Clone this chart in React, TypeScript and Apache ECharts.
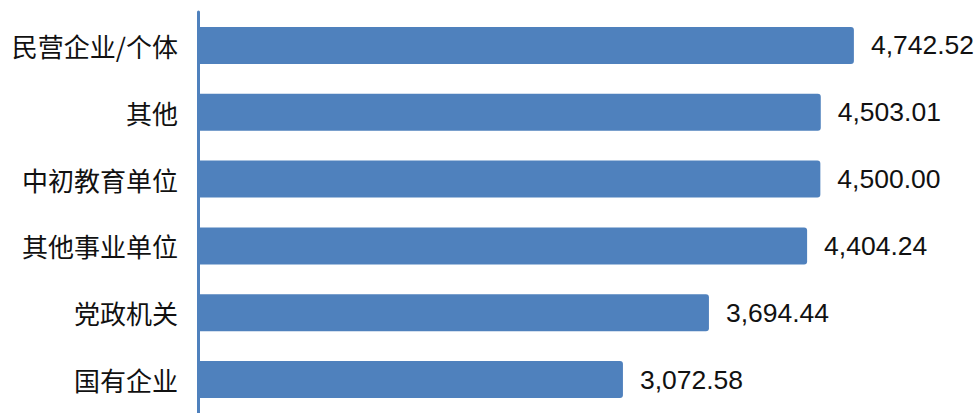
import React, { useEffect, useRef } from "react";
import * as echarts from "echarts";

const categories = ["民营企业/个体", "其他", "中初教育单位", "其他事业单位", "党政机关", "国有企业"];
const values = [4742.52, 4503.01, 4500.0, 4404.24, 3694.44, 3072.58];

function fmt(v: number): string {
  const fixed = v.toFixed(2);
  const [i, d] = fixed.split(".");
  return i.replace(/\B(?=(\d{3})+(?!\d))/g, ",") + "." + d;
}

export default function App() {
  const ref = useRef<HTMLDivElement>(null);
  useEffect(() => {
    document.body.style.margin = "0";
    document.body.style.overflow = "hidden";
    const chart = echarts.init(ref.current!, null, { renderer: "svg" });
    chart.setOption({
      animation: false,
      grid: { left: 198, right: 88.5, top: 12, bottom: -6 },
      xAxis: {
        type: "value",
        min: 0,
        max: 5000,
        show: false,
        splitLine: { show: false },
      },
      yAxis: {
        type: "category",
        inverse: true,
        data: categories,
        axisLine: { show: true, lineStyle: { color: "#4F81BD", width: 3 } },
        axisTick: { show: false },
        axisLabel: {
          margin: 20,
          fontSize: 26,
          color: "#111",
          fontFamily: "Noto Sans CJK SC",
        },
      },
      series: [
        {
          type: "bar",
          data: values,
          barWidth: 37,
          itemStyle: { color: "#4F81BD", borderRadius: [0, 3, 3, 0] },
          label: {
            show: true,
            position: "right",
            distance: 17,
            fontSize: 26.5,
            color: "#111",
            fontFamily: "Liberation Sans",
            formatter: (p: any) => fmt(p.value),
          },
        },
      ],
    });
    return () => chart.dispose();
  }, []);
  return <div ref={ref} style={{ width: 978, height: 413 }} />;
}
